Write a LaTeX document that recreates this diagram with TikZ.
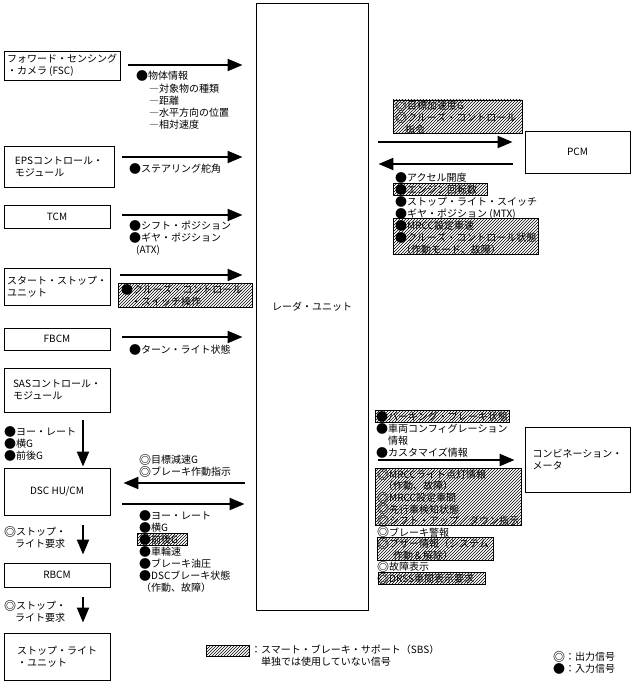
\documentclass[tikz,border=0pt]{standalone}
\usepackage{fontspec}
\setmainfont{Noto Sans CJK JP}
\usetikzlibrary{arrows.meta,patterns,calc}
\newcommand\inS{{\fontsize{12}{12}\selectfont\raisebox{-0.8pt}{●}}}
\newcommand\outS{{\fontsize{12}{12}\selectfont\bfseries\raisebox{-0.8pt}{◎}}}
\begin{document}
\begin{tikzpicture}[x=1pt,y=-1pt,
  font=\fontsize{10}{12}\selectfont,
  box/.style={draw, line width=0.9pt, align=left, inner sep=2pt},
  sig/.style={line width=2.2pt, -{Triangle[length=15pt,width=12pt]}},
  txt/.style={anchor=north west, inner sep=0pt, align=left},
  hatch/.style={pattern=north east lines, draw, line width=0.6pt}]
\useasboundingbox (0,0) rectangle (634,682);

% boxes
\node[box, minimum width=116pt, minimum height=29pt] (fsc) at (62,65.5) {フォワード・センシング\\・カメラ (FSC)};
\node[box, minimum width=110pt, minimum height=41pt] (eps) at (59,166.5) {EPSコントロール・\\モジュール};
\node[box, minimum width=106pt, minimum height=23pt] (tcm) at (57,216.5) {TCM};
\node[box, minimum width=106pt, minimum height=37pt] (ssu) at (57,286.5) {スタート・ストップ・\\ユニット};
\node[box, minimum width=106pt, minimum height=22pt] (fbcm) at (57,339) {FBCM};
\node[box, minimum width=106pt, minimum height=44pt] (sas) at (57,390) {SASコントロール・\\モジュール};
\node[box, minimum width=106pt, minimum height=47pt] (dsc) at (57,491.5) {DSC HU/CM};
\node[box, minimum width=106pt, minimum height=24pt] (rbcm) at (57,575) {RBCM};
\node[box, minimum width=106pt, minimum height=47pt] (slu) at (57,656.5) {ストップ・ライト\\・ユニット};
\node[box, minimum width=112pt, minimum height=607pt] (radar) at (312,306.5) {レーダ・ユニット};
\node[box, minimum width=105pt, minimum height=42pt] (pcm) at (577.5,152) {PCM};
\node[box, minimum width=105pt, minimum height=65pt] (meter) at (577.5,459.5) {コンビネーション・\\メータ};

% arrows
\draw[sig] ($(fsc.east)+(8,-0.5)$) -- ($(radar.west|-fsc.east)+(-13,-0.5)$);
\draw[sig] ($(eps.east)+(8,-9.5)$) -- ($(radar.west|-eps.east)+(-13,-9.5)$);
\draw[sig] ($(tcm.east)+(12,-1.5)$) -- ($(radar.west|-tcm.east)+(-13,-1.5)$);
\draw[sig] ($(ssu.east)+(10,-11.5)$) -- ($(radar.west|-ssu.east)+(-13,-11.5)$);
\draw[sig] ($(fbcm.east)+(12,-2)$) -- ($(radar.west|-fbcm.east)+(-13,-2)$);
\draw[sig] ($(radar.west|-dsc.east)+(-11,-8.5)$) -- ($(dsc.east)+(13,-8.5)$);
\draw[sig] ($(dsc.east)+(12,12.5)$) -- ($(radar.west|-dsc.east)+(-11,12.5)$);
\draw[sig] ($(radar.east|-pcm.west)+(10,-10)$) -- ($(pcm.west)+(-12,-10)$);
\draw[sig] ($(pcm.west)+(-12,12)$) -- ($(radar.east|-pcm.west)+(10,12)$);
\draw[sig] ($(radar.east|-meter.west)+(10,0.5)$) -- ($(meter.west)+(-10,0.5)$);
\draw[sig] ($(sas.south)+(26,8)$) -- ($(dsc.north)+(26,-1)$);
\draw[sig] ($(dsc.south)+(26,10)$) -- ($(rbcm.north)+(26,-8)$);
\draw[sig] ($(rbcm.south)+(26,10)$) -- ($(slu.north)+(26,-10)$);

% hatched backgrounds
\draw[hatch] (118,283) rectangle (252,307);
\draw[hatch] (137,533) rectangle (187,545);
\draw[hatch] (393,100) rectangle (522,133);
\draw[hatch] (393,183) rectangle (487,195);
\draw[hatch] (393,218) rectangle (538,254);
\draw[hatch] (375,410) rectangle (509,422);
\draw[hatch] (375,468) rectangle (521,525);
\draw[hatch] (377,537) rectangle (493,560);
\draw[hatch] (378,572) rectangle (485,584);
\draw[hatch] (206,645) rectangle (249,656);

% signal texts
\node[txt] (s1) at (136,70) {\inS 物体情報};
\node[txt] (s1b) at (149,84) {―対象物の種類\\―距離\\―水平方向の位置\\―相対速度};
\node[txt] (s2) at (129,163) {\inS ステアリング舵角};
\node[txt] (s3) at (129,220) {\inS シフト・ポジション\\\inS ギヤ・ポジション\\\hspace*{7pt}(ATX)};
\node[txt] (s4) at (121,284) {\inS クルーズ・コントロール\\\hspace*{10pt}・スイッチ操作};
\node[txt] (s5) at (129,344) {\inS ターン・ライト状態};
\node[txt] (s6) at (4,426) {\inS ヨー・レート\\\inS 横G\\\inS 前後G};
\node[txt] (s7) at (139,454) {\outS 目標減速G\\\outS ブレーキ作動指示};
\node[txt] (s8) at (139,510) {\inS ヨー・レート\\\inS 横G\\\inS 前後G\\\inS 車輪速\\\inS ブレーキ油圧\\\inS DSCブレーキ状態\\\hspace*{2pt}（作動、故障）};
\node[txt] (s9) at (4,526) {\outS ストップ・\\\hspace*{11pt}ライト要求};
\node[txt] (s10) at (4,600) {\outS ストップ・\\\hspace*{11pt}ライト要求};

\node[txt] (p1) at (395,100) {\outS 目標加速度G\\\outS クルーズ・コントロール\\\hspace*{10pt}指令};
\node[txt] (p2) at (395,172) {\inS アクセル開度\\\inS エンジン回転数\\\inS ストップ・ライト・スイッチ\\\inS ギヤ・ポジション (MTX)\\\inS MRCC設定車速\\\inS クルーズ・コントロール状態\\\hspace*{6pt}（作動モード、故障）};

\node[txt] (m1) at (376,411) {\inS パーキング・ブレーキ状態\\\inS 車両コンフィグレーション\\\hspace*{12pt}情報\\\inS カスタマイズ情報};
\node[txt, font=\fontsize{10}{11.56}\selectfont] (m2) at (377,469) {\outS MRCCライト点灯情報\\\hspace*{6pt}（作動、故障）\\\outS MRCC設定車間\\\outS 先行車検知状態\\\outS シフト・アップ／ダウン指示\\\outS ブレーキ警報\\\outS ブザー情報（システム\\\hspace*{16pt}作動＆解除）\\\outS 故障表示\\\outS DRSS車間表示要求};

% legend
\node[txt] (l1) at (251,645) {：スマート・ブレーキ・サポート（SBS）\\\hspace*{10pt}単独では使用していない信号};
\node[txt] (l2) at (553,651) {\outS ：出力信号\\\inS ：入力信号};
\end{tikzpicture}
\end{document}
